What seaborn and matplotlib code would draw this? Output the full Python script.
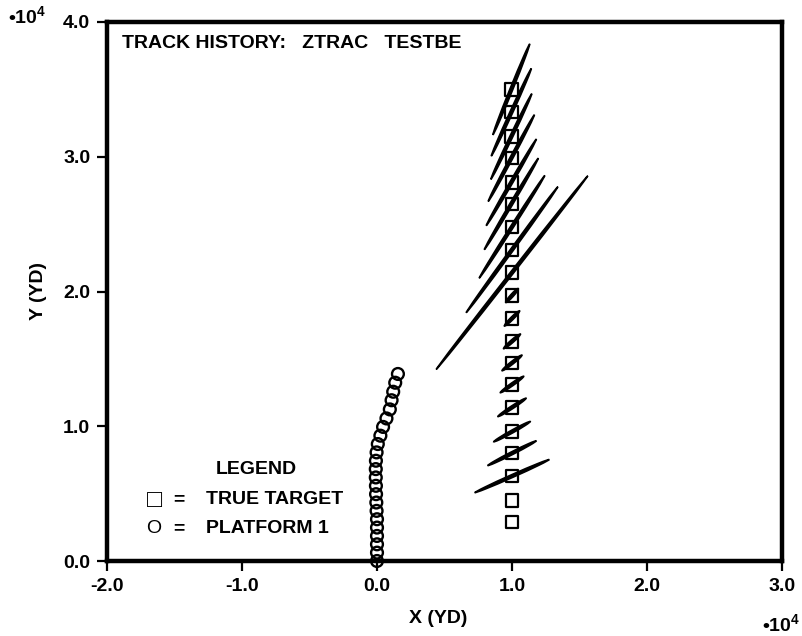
import numpy as np
import pandas as pd
import matplotlib
matplotlib.use("Agg")
import matplotlib.pyplot as plt
import seaborn as sns
from matplotlib.patches import Ellipse

# ---------------- data ----------------
title_text = "TRACK HISTORY:   ZTRAC   TESTBE"

target_x = [10000, 10000, 10000, 10000, 10000, 10000, 10000, 10000, 10000, 10000,
            10000, 10000, 10000, 10000, 10000, 10000, 10000, 9950, 9950, 9950]
target_y = [2900, 4500, 6300, 8000, 9600, 11400, 13100, 14700, 16300, 18000,
            19700, 21400, 23100, 24800, 26500, 28100, 29900, 31500, 33300, 35000]

# covariance ellipses centred on the target points (semi-major axis in yd, angle in deg)
ell_x = [10000, 10000, 10000, 10000, 10000, 10000, 10000, 10000, 10000,
         10000, 10000, 10000, 9950, 9950, 9950, 9950, 9950, 9950]
ell_y = [6300, 8000, 9600, 11400, 13100, 14700, 16300, 18000, 19700,
         21400, 23100, 24800, 26500, 28100, 29900, 31500, 33300, 35000]
ell_semi = [3020, 2020, 1550, 1250, 1060, 940, 830, 800, 700,
            9120, 5780, 4520, 3940, 3710, 3640, 3520, 3570, 3640]
ell_angle = [24, 27, 29, 33, 35, 38, 41, 45, 48,
             52, 54, 57.5, 59.5, 60, 62, 64.5, 65.5, 68]

plat_x = [0, 0, 0, 0, 0, 0, -30, -50, -70, -80, -90, -90, -80, -30, 60, 250,
          450, 700, 950, 1080, 1200, 1350, 1550]
plat_y = [0, 620, 1240, 1860, 2480, 3100, 3720, 4340, 4960, 5580, 6200, 6820,
          7440, 8060, 8680, 9300, 9950, 10580, 11250, 11930, 12560, 13230, 13880]

xticks = [-20000, -10000, 0, 10000, 20000, 30000]
xtick_labels = ["-2.0", "-1.0", "0.0", "1.0", "2.0", "3.0"]
yticks = [0, 10000, 20000, 30000, 40000]
ytick_labels = ["0.0", "1.0", "2.0", "3.0", "4.0"]

legend_title = "LEGEND"
legend_symbols = ["\u25a1", "O"]
legend_labels = ["TRUE TARGET", "PLATFORM 1"]

# ---------------- style ----------------
sns.set_theme(style="ticks")
plt.rcParams['font.family'] = ['Liberation Sans', 'DejaVu Sans']
plt.rcParams['font.weight'] = 'bold'
plt.rcParams['mathtext.fontset'] = 'custom'
plt.rcParams['mathtext.rm'] = 'Liberation Sans:bold'
plt.rcParams['mathtext.it'] = 'Liberation Sans:bold'
plt.rcParams['mathtext.bf'] = 'Liberation Sans:bold'

FS = 14

fig = plt.figure(figsize=(8.02, 6.36), dpi=100)
ax = fig.add_axes([107 / 802, 1 - 561 / 636, (782 - 107) / 802, (561 - 22) / 636])

tgt = pd.DataFrame({"x": target_x, "y": target_y})
plat = pd.DataFrame({"x": plat_x, "y": plat_y})

for xc, yc, a, ang in zip(ell_x, ell_y, ell_semi, ell_angle):
    ax.add_patch(Ellipse((xc, yc), width=2 * a, height=220, angle=ang,
                         facecolor='black', edgecolor='black', lw=1.1, zorder=3))

sns.scatterplot(data=tgt, x="x", y="y", marker='s', s=80, facecolor='none',
                edgecolor='black', linewidth=1.6, ax=ax, zorder=4)
sns.scatterplot(data=plat, x="x", y="y", marker='o', s=72, facecolor='none',
                edgecolor='black', linewidth=1.7, ax=ax, zorder=4, clip_on=False)

ax.set_xlim(-20000, 30000)
ax.set_ylim(0, 40000)
ax.set_xticks(xticks)
ax.set_xticklabels(xtick_labels)
ax.set_yticks(yticks)
ax.set_yticklabels(ytick_labels)
ax.tick_params(axis='both', direction='out', length=7, width=1.6, color='black',
               labelsize=FS, pad=5, labelcolor='black')
for s in ax.spines.values():
    s.set_visible(True)
    s.set_linewidth(3.2)
    s.set_color('black')

ax.set_xlabel("X (YD)", fontsize=FS, fontweight='bold', color='black')
ax.set_ylabel("Y (YD)", fontsize=FS, fontweight='bold', color='black')
ax.xaxis.set_label_coords((438 - 107) / 675, -(610 - 561) / 539)
ax.yaxis.set_label_coords(-(107 - 47) / 675, 0.5)

ax.text(122 / 802, 1 - 43 / 636, title_text, transform=fig.transFigure,
        fontsize=FS, fontweight='bold', ha='left', va='center', color='black')

ax.text(256 / 802, 1 - 470 / 636, legend_title, transform=fig.transFigure,
        fontsize=FS, fontweight='bold', ha='center', va='center', color='black')
for i, (sym, lab) in enumerate(zip(legend_symbols, legend_labels)):
    yy = 1 - (500 + 28.5 * i) / 636
    ax.text(154 / 802, yy, sym, transform=fig.transFigure,
            fontsize=(FS + 4) if i == 0 else FS, fontweight='normal',
            ha='center', va='center', color='black')
    ax.text(179 / 802, yy, "=", transform=fig.transFigure, fontsize=FS,
            fontweight='bold', ha='center', va='center', color='black')
    ax.text(206 / 802, yy, lab, transform=fig.transFigure, fontsize=FS,
            fontweight='bold', ha='left', va='center', color='black')

fig.text(8 / 802, 1 - 16 / 636, "\u202210$^{4}$", fontsize=FS, fontweight='bold',
         ha='left', va='center', color='black')
fig.text(800 / 802, 1 - 624 / 636, "\u202210$^{4}$", fontsize=FS, fontweight='bold',
         ha='right', va='center', color='black')

fig.savefig("out.png", dpi=100)
